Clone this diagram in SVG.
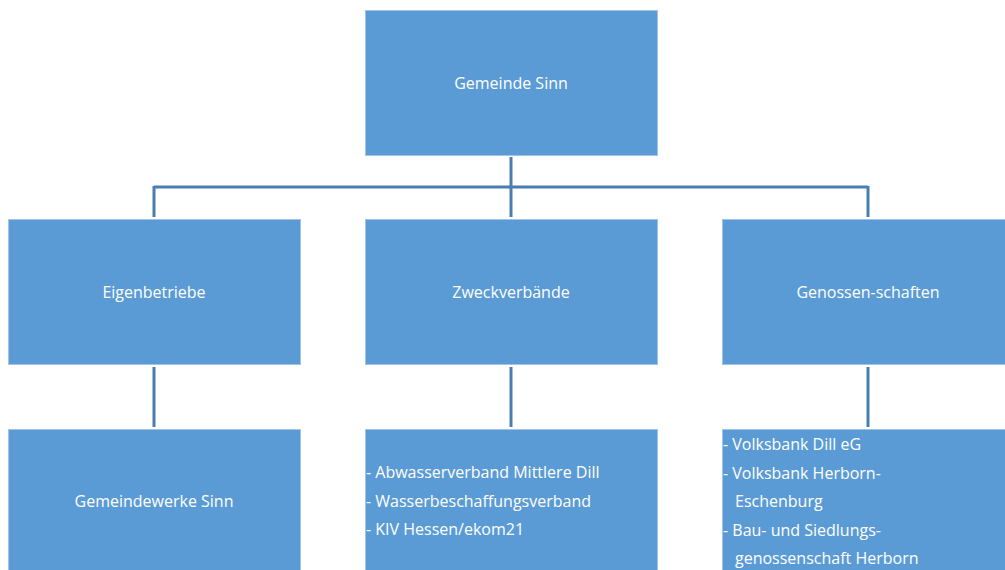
<svg xmlns="http://www.w3.org/2000/svg" width="1005" height="570" viewBox="0 0 1005 570">
<style>
.box{fill:#5b9bd5;stroke:#a3c4e6;stroke-width:1}
.t{font-family:"Open Sans","Liberation Sans",sans-serif;font-size:16px;fill:#ffffff}
.c{text-anchor:middle}
.ln{stroke:#4a7eb0;stroke-width:3;fill:none}
</style>
<rect width="1005" height="570" fill="#ffffff"/>
<g id="connectors">
<path class="ln" d="M511 157V217M154 187H868M154 186V217M868 186V217"/>
<path class="ln" d="M154 367V427M511 367V427M868 367V427"/>
</g>
<g id="gemeinde-sinn"><rect class="box" x="365.5" y="10.5" width="292" height="145"/><text class="t c" x="511" y="89">Gemeinde Sinn</text></g>
<g id="eigenbetriebe"><rect class="box" x="8.5" y="219.5" width="292" height="145"/><text class="t c" x="154" y="298">Eigenbetriebe</text></g>
<g id="zweckverbaende"><rect class="box" x="365.5" y="219.5" width="292" height="145"/><text class="t c" x="511" y="298">Zweckverbände</text></g>
<g id="genossenschaften"><rect class="box" x="722.5" y="219.5" width="292" height="145"/><text class="t c" x="868" y="298">Genossen-schaften</text></g>
<g id="gemeindewerke"><rect class="box" x="8.5" y="429.5" width="292" height="145"/><text class="t c" x="154" y="507">Gemeindewerke Sinn</text></g>
<g id="zweckverbaende-list"><rect class="box" x="365.5" y="429.5" width="292" height="145"/>
<text class="t" x="366" y="478">- Abwasserverband Mittlere Dill</text>
<text class="t" x="366" y="507">- Wasserbeschaffungsverband</text>
<text class="t" x="366" y="535">- KIV Hessen/ekom21</text></g>
<g id="genossenschaften-list"><rect class="box" x="722.5" y="429.5" width="292" height="145"/>
<text class="t" x="723" y="450">- Volksbank Dill eG</text>
<text class="t" x="723" y="479">- Volksbank Herborn-</text>
<text class="t" x="735" y="507">Eschenburg</text>
<text class="t" x="723" y="536">- Bau- und Siedlungs-</text>
<text class="t" x="735" y="564">genossenschaft Herborn</text></g>
</svg>
